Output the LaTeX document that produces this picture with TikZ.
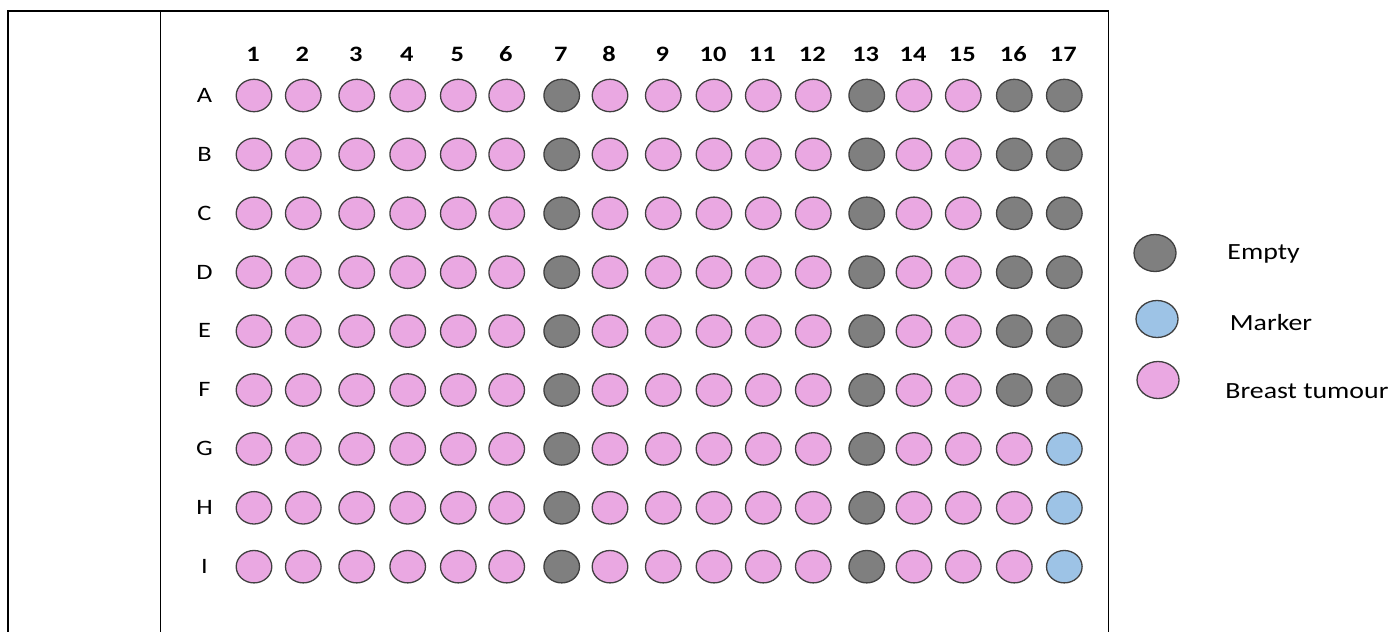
\documentclass[tikz,border=0pt]{standalone}
\usepackage{fontspec}
\setmainfont{Carlito}[FakeStretch=1.2]
\usetikzlibrary{shapes.geometric}
\definecolor{pinkw}{HTML}{EAA8E2}
\definecolor{grayw}{HTML}{7F7F7F}
\definecolor{bluew}{HTML}{9DC3E6}
\definecolor{edgew}{HTML}{404040}
\tikzset{
  well/.style={ellipse, draw=edgew, line width=0.65pt, inner sep=0pt,
    minimum width=17.8pt, minimum height=16.2pt},
  lwell/.style={ellipse, draw=edgew, line width=0.65pt, inner sep=0pt,
    minimum width=21pt, minimum height=18.5pt},
  colhead/.style={anchor=base, inner sep=0pt, font=\fontsize{11}{13}\selectfont\bfseries},
  rowhead/.style={anchor=base, inner sep=0pt, font=\fontsize{11}{13}\selectfont},
  legtext/.style={anchor=base west, inner sep=0pt, font=\fontsize{11.6}{14}\selectfont},
  frame/.style={draw=black, line width=0.55pt}
}
\begin{document}
\begin{tikzpicture}[x=0.5pt,y=-0.5pt]
\useasboundingbox (0,0) rectangle (1390,631);
% frame
\coordinate (fbl) at (8,640);
\coordinate (ftl) at (8,11);
\coordinate (ftr) at (1108.5,11);
\coordinate (fbr) at (1108.5,640);
\coordinate (dt) at (160.5,11);
\coordinate (db) at (160.5,640);
\draw[frame] (fbl) -- (ftl) -- (ftr) -- (fbr);
\draw[frame] (dt) -- (db);
% column headers
\foreach \x [count=\c] in {254,303.3,356.7,407.7,458.3,506.7,561.7,610,663.3,714,763.3,813.3,866.7,914,963.3,1014.3,1064.3}{
  \node[colhead] (h\c) at (\x-1,61.7) {\c};
}
% rows
\foreach \r [count=\i] in {A,B,C,D,E,F,G,H,I}{
  \pgfmathsetmacro{\yy}{95.5+58.9*(\i-1)}
  \node[rowhead] (r\r) at (204.5,\yy+6.8) {\r};
  \foreach \x [count=\c] in {254,303.3,356.7,407.7,458.3,506.7,561.7,610,663.3,714,763.3,813.3,866.7,914,963.3,1014.3,1064.3}{
    \def\wc{pinkw}
    \ifnum\c=7 \def\wc{grayw}\fi
    \ifnum\c=13 \def\wc{grayw}\fi
    \ifnum\c>15
      \ifnum\i<7 \def\wc{grayw}\else
        \ifnum\c=17 \def\wc{bluew}\fi
      \fi
    \fi
    \node[well, fill=\wc] (w\r\c) at (\x,\yy) {};
  }
}
% legend
\node[lwell, fill=grayw] (lempty) at (1155,253) {};
\node[lwell, fill=bluew] (lmarker) at (1157,319) {};
\node[lwell, fill=pinkw] (ltumour) at (1158,380) {};
\node[legtext] (tempty) at (1227,259) {Empty};
\node[legtext] (tmarker) at (1229.5,330) {Marker};
\node[legtext] (ttumour) at (1225,398) {Breast tumour};
\end{tikzpicture}
\end{document}
